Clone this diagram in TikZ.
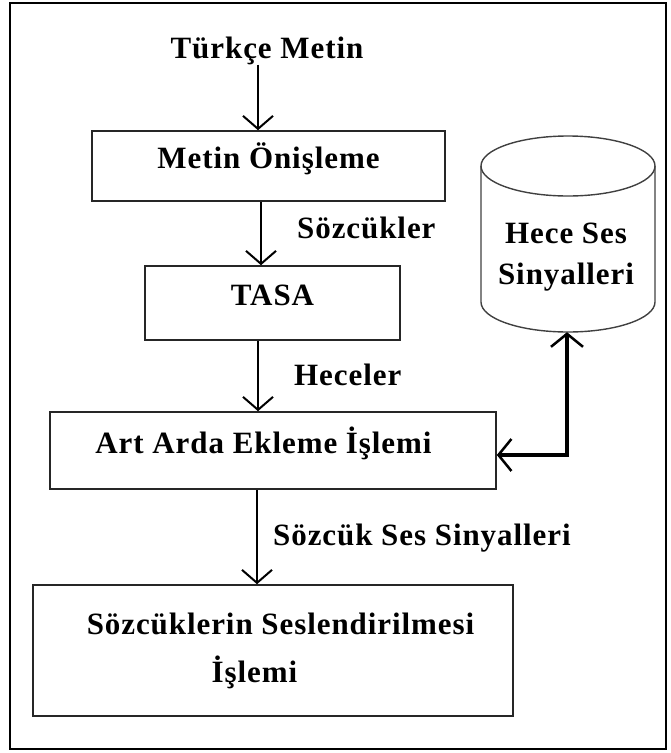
\documentclass[tikz,border=0pt]{standalone}
\usepackage{fontspec}
\setmainfont{Liberation Serif}[LetterSpace=3]
\usetikzlibrary{arrows.meta}
\begin{document}
\begin{tikzpicture}[x=1pt,y=-1pt,
  txt/.style={font=\fontsize{31}{41}\selectfont\bfseries, inner sep=0pt},
  procbox/.style={draw=black!85, line width=1.6pt, txt, align=center},
  onel/.style={text height=0.76em, text depth=0.2em},
  barb/.tip={Straight Barb[length=13pt,width=30pt,line width=2pt]},
  flow/.style={line width=2.2pt, -barb},
  dflow/.style={line width=4pt, {Straight Barb[length=13pt,width=32pt,line width=2.5pt]}-{Straight Barb[length=13pt,width=32pt,line width=2.5pt]}},
  lbl/.style={txt, anchor=base west}]
\useasboundingbox (0,0) rectangle (670,753);
\draw[line width=2.5pt] (10,3) rectangle (666,749);
\node[txt, anchor=base] (t) at (267,58) {Türkçe Metin};
\node[procbox, onel, minimum width=353, minimum height=70] (b1) at (268.5,166) {Metin Önişleme};
\node[procbox, onel, minimum width=255, minimum height=74] (b2) at (272.5,303) {TASA};
\node[procbox, onel, minimum width=446, minimum height=77] (b3) at (273,450.5) {Art Arda Ekleme İşlemi\hspace*{19pt}};
\node[procbox, minimum width=480, minimum height=131, font=\fontsize{31}{48}\selectfont\bfseries] (b4) at (273,650.5) {\hspace*{15pt}Sözcüklerin Seslendirilmesi\\İşlemi\hspace*{37pt}};
% cylinder
\node[minimum width=174, minimum height=196, inner sep=0pt] (cyl) at (568,234) {};
\draw[line width=1.4pt, black!75] (481,166) -- (481,302) arc[start angle=180, end angle=0, x radius=87, y radius=30] -- (655,166);
\draw[line width=1.4pt, black!75] (568,166) ellipse[x radius=87, y radius=30];
\node[txt, align=center] (cylt) at (566,257) {Hece Ses\\Sinyalleri};
% arrows
\draw[flow] (t.south -| 258,0) -- (b1.north -| 258,0);
\draw[flow] (b1.south -| 261,0) -- (b2.north -| 261,0);
\draw[flow] (b2.south -| 258,0) -- (b3.north -| 258,0);
\draw[flow] (b3.south -| 257,0) -- (b4.north -| 257,0);
\node[lbl] (l1) at (297,238) {Sözcükler};
\node[lbl] (l2) at (294,385) {Heceler};
\node[lbl] (l3) at (273,545) {Sözcük Ses Sinyalleri};
\draw[dflow] (cyl.south -| 567,0) -- (567,455) -- (b3.east |- 0,455);
\end{tikzpicture}
\end{document}
